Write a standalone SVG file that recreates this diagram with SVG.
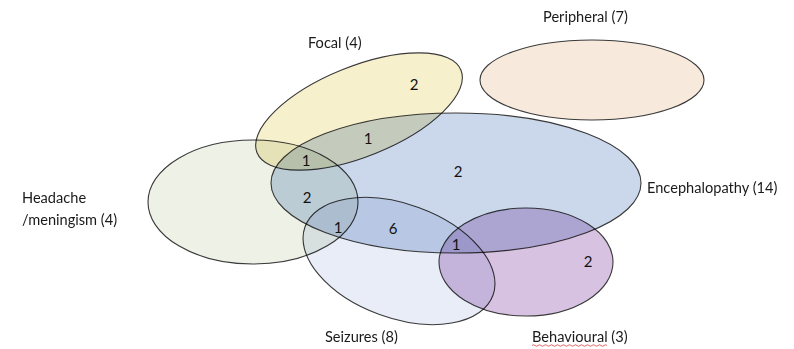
<svg xmlns="http://www.w3.org/2000/svg" width="794" height="349" viewBox="0 0 794 349">
<style>
  .set { stroke: #3a3a3a; stroke-width: 1.1; mix-blend-mode: multiply; }
  .lbl { font-family: Lato, "Open Sans", "Liberation Sans", sans-serif; font-size: 14.6px; fill: #1a1a1a; }
  .num { font-family: Lato, "Open Sans", "Liberation Sans", sans-serif; font-size: 15px; fill: #111; text-anchor: middle; }
</style>
<g style="isolation:isolate">
  <rect x="0" y="0" width="794" height="349" fill="#ffffff"/>
  <g id="peripheral">
    <ellipse class="set" cx="592" cy="80" rx="112" ry="40" fill="#f8e9dd"/>
    <text class="lbl" x="543" y="22">Peripheral (7)</text>
  </g>
  <g id="headache">
    <ellipse class="set" cx="253" cy="202" rx="105" ry="62" fill="#edf1e6"/>
    <text class="lbl" x="22" y="203">Headache</text>
    <text class="lbl" x="22" y="225">/meningism (4)</text>
  </g>
  <g id="encephalopathy">
    <ellipse class="set" cx="456" cy="183" rx="185" ry="70" fill="#cbd8ec"/>
    <text class="lbl" x="647" y="193">Encephalopathy (14)</text>
  </g>
  <g id="focal">
    <ellipse class="set" cx="359" cy="111.5" rx="110" ry="45" transform="rotate(-22 359 111.5)" fill="#f7f0cc"/>
    <text class="lbl" x="308" y="48">Focal (4)</text>
  </g>
  <g id="seizures">
    <ellipse class="set" cx="399" cy="261" rx="100" ry="57" transform="rotate(20 399 261)" fill="#e8edf7"/>
    <text class="lbl" x="325" y="342">Seizures (8)</text>
  </g>
  <g id="behavioural">
    <ellipse class="set" cx="526" cy="262" rx="87" ry="54" fill="#d8c2e2"/>
    <text class="lbl" x="532" y="342">Behavioural (3)</text>
    <path d="M532 345.5 q1.5 -1.5 3 0 t3 0 t3 0 t3 0 t3 0 t3 0 t3 0 t3 0 t3 0 t3 0 t3 0 t3 0 t3 0 t3 0 t3 0 t3 0 t3 0 t3 0 t3 0 t3 0 t3 0 t3 0 t3 0 t3 0 t3 0" fill="none" stroke="#e04040" stroke-width="0.8"/>
  </g>
</g>
<g id="counts">
  <text class="num" x="414" y="90">2</text>
  <text class="num" x="368" y="144">1</text>
  <text class="num" x="306" y="166">1</text>
  <text class="num" x="458" y="177">2</text>
  <text class="num" x="307" y="203">2</text>
  <text class="num" x="338" y="233">1</text>
  <text class="num" x="393" y="234">6</text>
  <text class="num" x="456" y="250">1</text>
  <text class="num" x="588" y="267">2</text>
</g>
</svg>
